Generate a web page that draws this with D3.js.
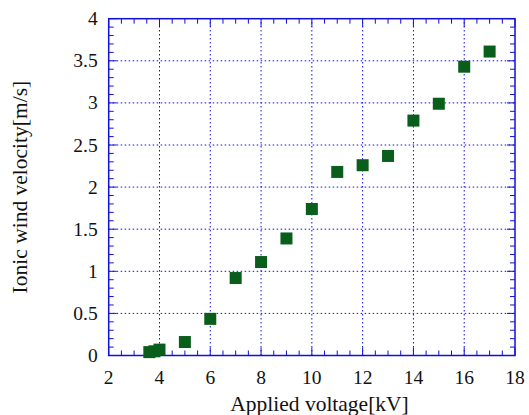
<!DOCTYPE html>
<html>
<head>
<meta charset="utf-8">
<script src="https://cdn.jsdelivr.net/npm/d3@7.9.0/dist/d3.min.js"></script>
<style>
  body { margin: 0; background: #fff; }
</style>
</head>
<body>
<div id="chart"></div>
<script>
// voltage [kV] and ionic wind velocity [m/s]
const voltage = [3.6, 3.8, 4.0, 5, 6, 7, 8, 9, 10, 11, 12, 13, 14, 15, 16, 17];
const velocity = [0.04, 0.05, 0.07, 0.16, 0.435, 0.92, 1.11, 1.39, 1.74, 2.18, 2.26, 2.37, 2.79, 2.99, 3.43, 3.61];
const xTicks = [2, 4, 6, 8, 10, 12, 14, 16, 18];
const yTicks = [0, 0.5, 1, 1.5, 2, 2.5, 3, 3.5, 4];

const width = 529, height = 415;
const margin = { top: 18.7, right: 14, bottom: 59.5, left: 108.7 };

const svg = d3.select('#chart').append('svg')
  .attr('width', width)
  .attr('height', height)
  .attr('font-family', "'Liberation Serif', 'Times New Roman', serif")
  .attr('fill', '#111');

const x = d3.scaleLinear().domain([2, 18]).range([margin.left, width - margin.right]);
const y = d3.scaleLinear().domain([0, 4]).range([height - margin.bottom, margin.top]);

const blue = '#1010d8';

// grid
const grid = svg.append('g');
grid.selectAll('.gx')
  .data(xTicks.slice(1, -1))
  .join('line')
  .attr('x1', d => x(d)).attr('x2', d => x(d))
  .attr('y1', y(0)).attr('y2', y(4))
  .attr('stroke', blue).attr('stroke-width', 1)
  .attr('stroke-dasharray', '1.5,2.5');
grid.selectAll('.gy')
  .data(yTicks.slice(1, -1))
  .join('line')
  .attr('y1', d => y(d)).attr('y2', d => y(d))
  .attr('x1', x(2)).attr('x2', x(18))
  .attr('stroke', blue).attr('stroke-width', 1)
  .attr('stroke-dasharray', '1.5,2.5');

// minor / major ticks, pointing inward on all four sides
const xMinor = d3.range(2, 18.01, 0.5);
const yMinor = d3.range(0, 4.001, 0.1);
const ticks = svg.append('g').attr('stroke', blue).attr('stroke-width', 1);
xMinor.forEach(v => {
  const len = Math.abs(v % 2) < 1e-6 ? 8 : 5;
  ticks.append('line').attr('x1', x(v)).attr('x2', x(v)).attr('y1', y(0)).attr('y2', y(0) - len);
  ticks.append('line').attr('x1', x(v)).attr('x2', x(v)).attr('y1', y(4)).attr('y2', y(4) + len);
});
yMinor.forEach(v => {
  const r = Math.round(v * 10);
  const len = r % 5 === 0 ? 8 : 5;
  ticks.append('line').attr('y1', y(v)).attr('y2', y(v)).attr('x1', x(2)).attr('x2', x(2) + len);
  ticks.append('line').attr('y1', y(v)).attr('y2', y(v)).attr('x1', x(18)).attr('x2', x(18) - len);
});

// frame
svg.append('rect')
  .attr('x', x(2)).attr('y', y(4))
  .attr('width', x(18) - x(2)).attr('height', y(0) - y(4))
  .attr('fill', 'none').attr('stroke', blue).attr('stroke-width', 1.5);

// tick labels
svg.append('g').selectAll('text')
  .data(xTicks)
  .join('text')
  .attr('x', d => x(d))
  .attr('y', y(0) + 28)
  .attr('text-anchor', 'middle')
  .attr('font-size', 19.5)
  .text(d => d);

svg.append('g').selectAll('text')
  .data(yTicks)
  .join('text')
  .attr('x', x(2) - 11)
  .attr('y', d => y(d) + 6.5)
  .attr('text-anchor', 'end')
  .attr('font-size', 19.5)
  .text(d => d);

// points
svg.append('g').selectAll('rect')
  .data(voltage.map((v, i) => [v, velocity[i]]))
  .join('rect')
  .attr('x', d => x(d[0]) - 6)
  .attr('y', d => y(d[1]) - 6)
  .attr('width', 12).attr('height', 12)
  .attr('fill', '#0a5e1c');

// axis titles
svg.append('text')
  .attr('x', 319.5)
  .attr('y', 410.5)
  .attr('text-anchor', 'middle')
  .attr('font-size', 21.5)
  .text('Applied voltage[kV]');

svg.append('text')
  .attr('transform', `translate(27,${(y(0) + y(4)) / 2}) rotate(-90)`)
  .attr('text-anchor', 'middle')
  .attr('font-size', 21.5)
  .text('Ionic wind velocity[m/s]');
</script>
</body>
</html>
